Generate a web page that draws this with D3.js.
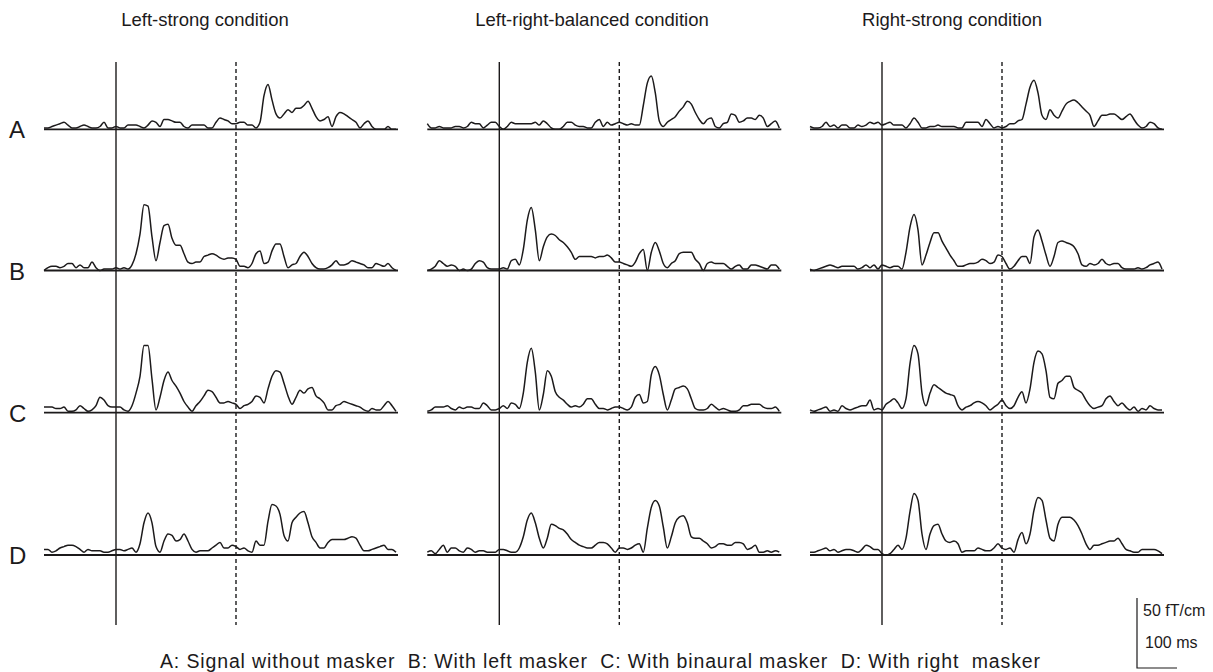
<!DOCTYPE html>
<html>
<head>
<meta charset="utf-8">
<script src="https://cdnjs.cloudflare.com/ajax/libs/d3/7.8.5/d3.min.js"></script>
<style>
body { margin: 0; background: #fff; }
svg { display: block; font-family: "Liberation Sans", Arial, sans-serif; }
</style>
</head>
<body>
<svg width="1213" height="672"></svg>
<script>
// Titles and labels
var conditions = ["Left-strong condition", "Left-right-balanced condition", "Right-strong condition"];
var rowLabels = ["A", "B", "C", "D"];
var legendText = "A: Signal without masker  B: With left masker  C: With binaural masker  D: With right  masker";

// Sample times in ms (stimulus onset at 0, second marker at 300)
var times = d3.range(-180, 710, 10);
var onsetTime = 0, markerTime = 300, endTime = 705;

// Amplitudes in fT/cm, one array per panel
// Left-strong condition
var leftA = [1,1,2,3,4,5,3,1,1,2, 3,2,1,1,2,5,1,1,2,1, 1,3,3,3,2,1,3,6,5,2, 7,7,6,5,5,2,1,3,3,3, 3,1,1,5,8,7,6,4,4,5, 5,3,3,1,5,24,32,21,11,8, 11,14,12,15,15,17,20,15,9,6, 7,9,2,9,12,11,9,7,5,1, 4,6,2,0,0,0,2,0,0];
var leftB = [0,2,3,3,2,3,5,5,2,4, 2,2,6,2,0,1,1,1,2,1, 2,1,4,12,26,47,46,24,7,20, 32,33,23,18,18,12,6,5,6,6, 10,11,12,11,9,8,9,9,8,3, 3,2,5,12,14,5,6,14,19,19, 10,2,4,5,10,13,10,5,2,1, 1,2,4,7,4,4,5,7,6,5, 4,2,2,5,4,3,5,2,0];
var leftC = [4,4,4,3,3,4,1,1,2,5, 3,1,2,5,11,9,5,4,4,4, 2,1,5,14,26,48,48,24,2,11, 23,29,23,19,14,8,4,1,5,8, 12,16,15,11,7,7,8,7,6,3, 5,6,8,12,11,7,17,26,30,29, 21,12,6,11,16,14,17,18,12,10, 7,2,2,5,6,8,7,6,5,4, 2,1,3,2,2,5,8,5,1];
var leftD = [4,4,2,3,5,6,7,7,6,4, 2,4,3,3,3,2,2,3,4,4, 3,4,5,2,8,23,30,23,6,2, 10,15,14,10,11,15,10,4,2,3, 3,3,5,7,9,5,5,7,6,4, 5,3,2,10,7,7,24,36,35,29, 14,10,23,27,30,31,23,13,9,5, 5,9,11,11,11,11,12,13,12,7, 3,3,4,5,6,7,4,4,2];
// Left-right-balanced condition
var balancedA = [4,1,1,2,1,1,1,2,2,1, 2,5,4,4,1,3,5,5,2,0, 2,5,4,4,4,4,4,5,3,6, 4,1,0,0,2,5,5,3,2,2, 1,1,5,7,2,5,3,4,5,4, 3,4,3,3,17,33,38,26,6,2, 5,7,9,13,16,20,18,12,7,4, 7,8,2,1,4,5,11,10,5,6, 8,8,7,10,8,2,4,6,1];
var balancedB = [0,1,3,7,5,3,4,3,0,1, 0,1,5,7,6,2,1,1,1,2, 1,7,8,4,15,36,45,29,7,17, 24,26,25,22,20,17,13,8,10,10, 10,10,9,10,10,11,9,6,6,5, 4,3,6,12,15,0,13,20,14,5, 2,5,7,12,13,13,13,8,5,0, 5,6,5,5,5,3,1,3,4,1, 1,4,4,3,2,1,4,4,1];
var balancedC = [1,2,4,4,4,5,3,2,4,3, 4,4,3,3,7,5,2,2,3,5, 3,7,6,3,14,36,46,29,2,13, 30,26,15,11,9,6,4,5,4,6, 10,10,6,3,3,2,3,4,4,3, 2,4,11,13,7,8,27,33,27,13, 2,9,17,18,19,17,10,3,2,2, 3,6,4,2,3,2,1,1,2,5, 5,6,6,6,4,3,3,4,1];
var balancedD = [2,3,1,4,7,2,5,5,3,2, 5,4,2,3,3,2,2,2,4,4, 3,2,2,5,13,25,30,23,12,5, 12,22,21,19,18,15,11,9,7,6, 5,5,7,9,9,8,5,2,5,5, 4,5,7,8,2,19,34,39,35,20, 5,13,23,27,28,23,13,12,12,10, 8,5,6,8,8,7,7,9,9,8, 4,5,7,2,2,3,2,3,2];
// Right-strong condition
var rightA = [2,1,1,2,5,2,3,1,3,3, 1,1,3,2,3,5,4,5,3,4, 5,3,3,3,1,4,8,5,1,1, 2,2,3,2,2,2,2,1,1,5, 5,5,5,2,7,4,1,2,1,2, 4,4,6,7,18,30,35,26,10,7, 14,10,8,13,18,20,21,19,16,13, 10,2,6,10,10,11,11,9,7,9, 11,7,3,1,2,5,4,1,0];
var rightB = [1,0,1,2,3,4,3,2,3,3, 3,3,1,2,4,2,4,1,4,3, 2,3,3,1,13,31,40,29,4,11, 20,27,27,21,16,11,7,3,3,4, 5,5,6,8,7,5,6,11,10,5, 1,3,7,10,10,5,24,29,21,11, 3,10,20,21,20,19,17,12,4,3, 5,4,5,8,5,4,5,5,2,1, 1,1,2,1,2,4,5,6,1];
var rightC = [2,1,2,3,4,1,2,1,5,3, 2,3,4,5,5,9,2,3,2,6, 8,10,7,3,10,35,48,42,14,5, 14,20,18,16,14,13,12,5,2,4, 5,7,8,7,5,2,4,6,9,5, 3,5,11,15,7,17,36,44,42,30, 11,10,21,23,26,26,18,16,14,9, 5,3,4,5,10,12,8,5,7,4, 2,4,1,3,2,5,3,2,2];
var rightD = [2,2,3,4,5,3,4,2,3,4, 4,3,2,4,7,6,4,4,1,0, 1,4,7,4,12,31,44,39,15,4, 15,21,22,15,10,9,10,8,2,3, 3,3,5,4,3,3,5,8,5,4, 5,2,11,16,8,15,32,41,39,25, 12,10,22,27,27,27,25,21,15,8, 4,7,7,8,9,10,10,12,8,4, 3,2,2,4,4,4,4,3,1];

var panels = [
    [leftA, leftB, leftC, leftD],
    [balancedA, balancedB, balancedC, balancedD],
    [rightA, rightB, rightC, rightD]
];

var svg = d3.select("svg");
var ink = "#1c1a1b";

// Layout
var colX = [44, 427.3, 810];
var rowY = [129.3, 270.5, 412.7, 555];
var titleX = [205, 592, 952];
var markerTop = 62, markerBottom = 625;

var x = d3.scaleLinear().domain([times[0], endTime]).range([0, 354]);
var y = d3.scaleLinear().domain([0, 50]).range([0, -70]);

var line = d3.line()
    .x((d, i) => x(times[i]))
    .y(d => y(d))
    .curve(d3.curveMonotoneX);

// Column titles
svg.selectAll("text.title")
    .data(conditions)
    .join("text")
        .attr("class", "title")
        .attr("x", (d, i) => titleX[i])
        .attr("y", 26)
        .attr("text-anchor", "middle")
        .attr("font-size", 18.5)
        .attr("fill", ink)
        .text(d => d);

// Row labels
svg.selectAll("text.row")
    .data(rowLabels)
    .join("text")
        .attr("class", "row")
        .attr("x", 9)
        .attr("y", (d, i) => rowY[i] + 9)
        .attr("font-size", 24)
        .attr("fill", ink)
        .text(d => d);

panels.forEach(function(col, c) {
    var g = svg.append("g").attr("transform", "translate(" + colX[c] + ",0)");

    // onset and marker lines
    g.append("line")
        .attr("x1", x(onsetTime)).attr("x2", x(onsetTime))
        .attr("y1", markerTop).attr("y2", markerBottom)
        .attr("stroke", ink).attr("stroke-width", 1.4);
    g.append("line")
        .attr("x1", x(markerTime)).attr("x2", x(markerTime))
        .attr("y1", markerTop).attr("y2", markerBottom)
        .attr("stroke", ink).attr("stroke-width", 1.4)
        .attr("stroke-dasharray", "4,3");

    col.forEach(function(series, r) {
        var row = g.append("g").attr("transform", "translate(0," + rowY[r] + ")");
        row.append("line")
            .attr("x1", x(times[0])).attr("x2", x(endTime))
            .attr("y1", 0).attr("y2", 0)
            .attr("stroke", ink).attr("stroke-width", 1.8);
        row.append("path")
            .datum(series)
            .attr("fill", "none")
            .attr("stroke", ink)
            .attr("stroke-width", 1.5)
            .attr("stroke-linejoin", "round")
            .attr("d", line);
    });
});

// Scale bar: 50 fT/cm and 100 ms
var sb = svg.append("g").attr("transform", "translate(1137,668)");
sb.append("path")
    .attr("d", "M0," + y(50) + "V0H" + (x(100) - x(0)))
    .attr("fill", "none")
    .attr("stroke", ink)
    .attr("stroke-width", 1.2);
sb.append("text")
    .attr("x", 6).attr("y", y(50) + 18)
    .attr("font-size", 16).attr("fill", ink)
    .text("50 fT/cm");
sb.append("text")
    .attr("x", 8).attr("y", -20)
    .attr("font-size", 16).attr("fill", ink)
    .text("100 ms");

// Legend
svg.append("text")
    .attr("x", 600)
    .attr("y", 668)
    .attr("text-anchor", "middle")
    .attr("font-size", 19.5)
    .attr("textLength", 880)
    .attr("lengthAdjust", "spacing")
    .attr("fill", ink)
    .style("white-space", "pre")
    .text(legendText);
</script>
</body>
</html>
